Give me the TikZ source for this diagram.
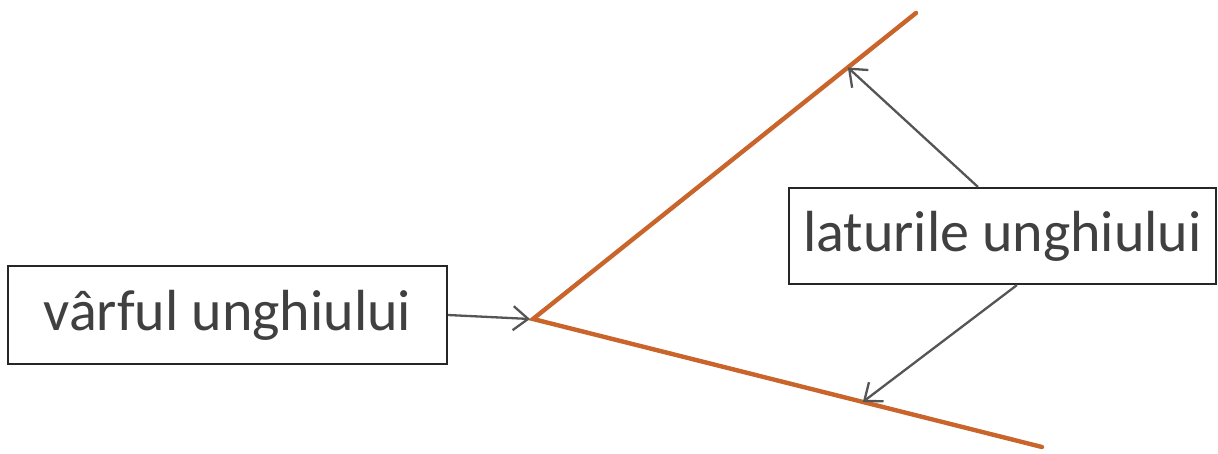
\documentclass[tikz,border=0pt]{standalone}
\usepackage{fontspec}
\setmainfont{Carlito}
\usetikzlibrary{arrows.meta,calc}
\definecolor{rayc}{HTML}{C9642A}
\definecolor{txt}{HTML}{404040}
\definecolor{arr}{HTML}{555555}
\tikzset{
  label box/.style={draw=black!85, line width=2.2pt, fill=white, text=txt,
    font=\fontsize{58}{60}\selectfont, inner sep=0pt, anchor=center},
  ray/.style={draw=rayc, line width=4.4pt},
  pointer/.style={draw=arr, line width=2.3pt, -{Straight Barb[length=15pt,width=24pt,line width=2.3pt]}}
}
\begin{document}
\begin{tikzpicture}[x=1pt,y=1pt]
\useasboundingbox (0,0) rectangle (1218,453);
\coordinate (V) at (533,134);
\coordinate (A) at (916,440);
\coordinate (B) at (1042,6);
\draw[ray, line cap=round] (A) -- (V) -- (B);
\node[label box, minimum width=439pt, minimum height=98pt] (L) at (227.5,138) {vârful unghiului};
\node[label box, minimum width=427pt, minimum height=96pt] (R) at (1002.5,217) {laturile unghiului};
\coordinate (P1) at ($(V)!0.822!(A)$);
\coordinate (P2) at ($(V)!0.648!(B)$);
\coordinate (S1) at ($(R.north west)+(190,0)$);
\coordinate (S2) at ($(R.south west)+(229,0)$);
\draw[pointer] (L.east) -- ($(V)+(-3,0)$);
\draw[pointer] (S1) -- (P1);
\draw[pointer] (S2) -- (P2);
\end{tikzpicture}
\end{document}
